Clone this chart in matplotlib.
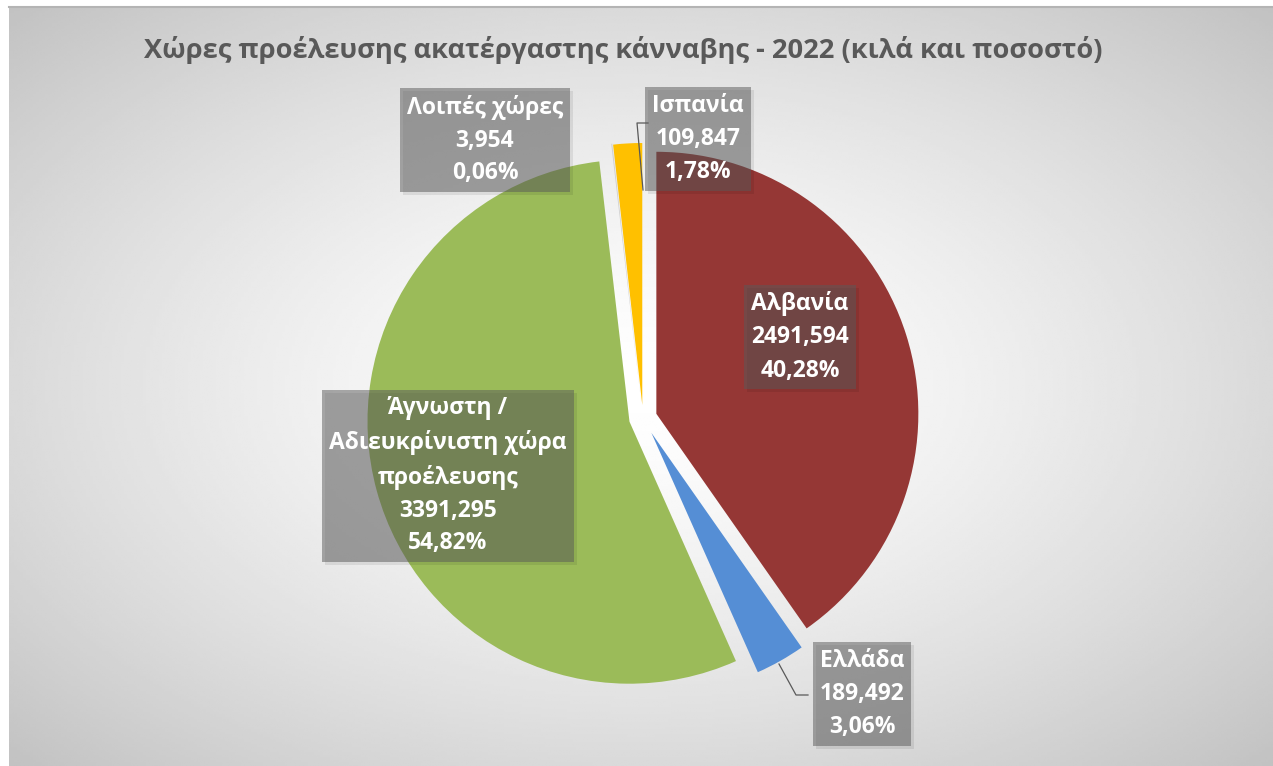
import numpy as np
import matplotlib
matplotlib.use('Agg')
import matplotlib.pyplot as plt
from matplotlib.patches import Rectangle

plt.rcParams['font.family'] = ['Open Sans', 'DejaVu Sans']

# data (kilos)
countries = ['Αλβανία', 'Ελλάδα', 'Άγνωστη /\nΑδιευκρίνιστη χώρα\nπροέλευσης', 'Λοιπές χώρες', 'Ισπανία']
kilos = [2491.594, 189.492, 3391.295, 3.954, 109.847]
colors = ['#953735', '#558ED5', '#9BBB59', '#D0D0D0', '#FFC000']

W, H = 1273, 766
fig = plt.figure(figsize=(W / 100, H / 100), dpi=100, facecolor='white')
ax = fig.add_axes([0, 0, 1, 1])

# radial gray background of the chart area
x0, x1, y0, y1 = 9, W, 0, H - 7
X, Y = np.meshgrid(np.linspace(-1, 1, 400), np.linspace(-1, 1, 300))
g = np.sqrt(X ** 2 + Y ** 2) / np.sqrt(2)
bg = 1 - 0.24 * g ** 1.4
ax.imshow(bg, cmap='gray', vmin=0, vmax=1, extent=[x0, x1, y0, y1],
          aspect='auto', interpolation='bilinear', zorder=0)
ax.plot([x0, x1], [y1, y1], color='#b4b4b4', lw=1.5, zorder=1)

# pie, starting at 12 o'clock, clockwise; explode is in data units (pixels here)
cx, cy, r = 643, H - 418, 262
offsets = [14, 17, 14, 14, 13]
wedges, _ = ax.pie(kilos, explode=offsets, colors=colors, startangle=90,
                   counterclock=False, center=(cx, cy), radius=r,
                   wedgeprops=dict(linewidth=0))
for w in wedges:
    w.set_zorder(2)

total = sum(kilos)
labels = []
for name, v in zip(countries, kilos):
    num = f'{v:.3f}'.replace('.', ',')
    pct = f'{100 * v / total:.2f}'.replace('.', ',')
    labels.append(f'{name}\n{num}\n{pct}%')

ax.set_xlim(0, W)
ax.set_ylim(0, H)
ax.set_aspect('auto')
ax.axis('off')

# label centres in image pixels
label_pos = [(800, 337), (862, 694), (448, 476), (485, 140), (698, 139)]
texts = []
for lab, (px, py) in zip(labels, label_pos):
    t = ax.text(px, H - py, lab, ha='center', va='center', color='white',
                fontsize=16.5, fontweight='bold', linespacing=1.5, zorder=5,
                bbox=dict(boxstyle='square,pad=0.3', fc='#595959', ec='none', alpha=0.5))
    texts.append(t)

# soft shadow under each label box
fig.canvas.draw()
inv = ax.transData.inverted()
for t in texts:
    bb = t.get_bbox_patch().get_window_extent()
    (bx0, by0), (bx1, by1) = inv.transform([[bb.x0, bb.y0], [bb.x1, bb.y1]])
    ax.add_patch(Rectangle((bx0 + 3, by0 - 3), bx1 - bx0, by1 - by0,
                           fc='black', ec='none', alpha=0.08, zorder=3))

# leader lines
ax.plot([648, 637, 643], [H - 123, H - 123, H - 190], color='#595959', lw=0.9, zorder=4)
ax.plot([808, 796, 779], [H - 695, H - 695, H - 664], color='#595959', lw=0.9, zorder=4)

ax.text(623, H - 50, 'Χώρες προέλευσης ακατέργαστης κάνναβης - 2022 (κιλά και ποσοστό)',
        ha='center', va='center', fontsize=19.6, fontweight='bold', color='#595959', zorder=5)

fig.savefig('out.png', dpi=100, facecolor='white')
